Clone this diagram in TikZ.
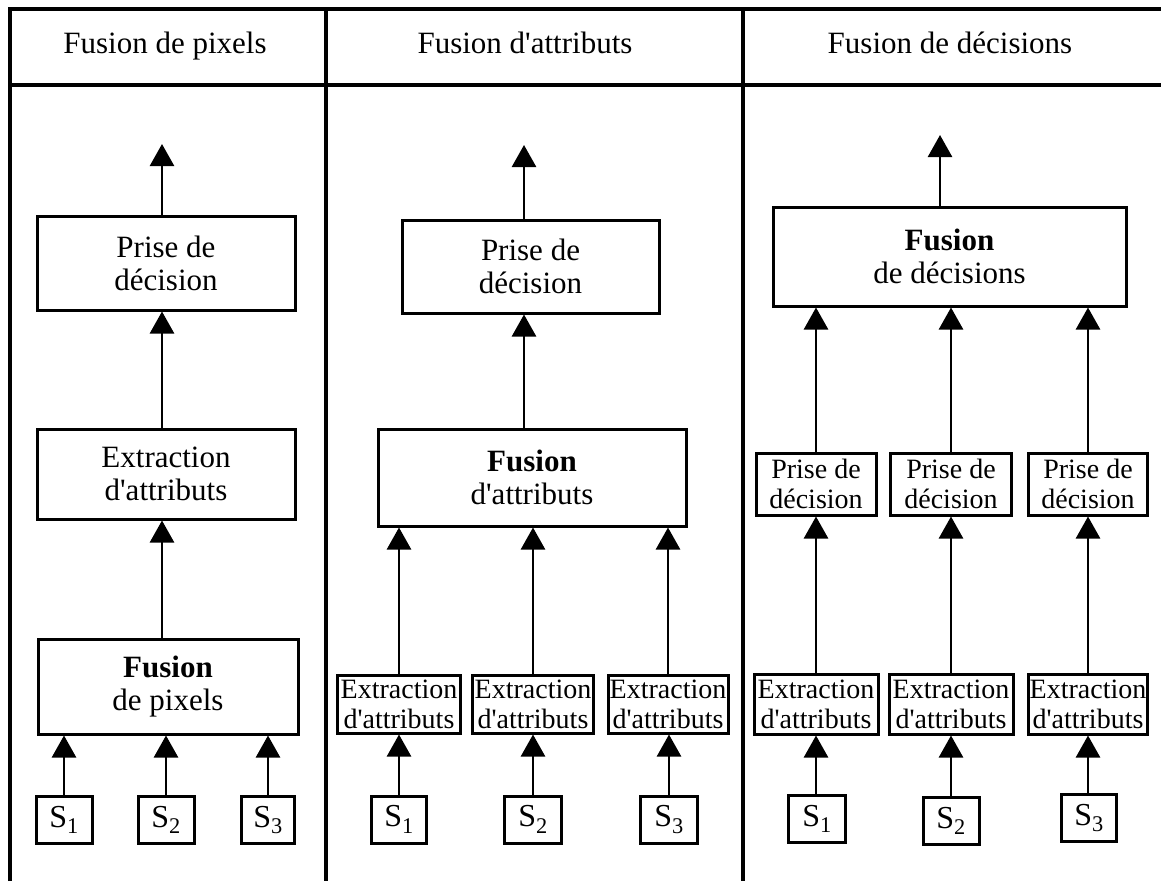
\documentclass[tikz,border=0pt]{standalone}
\usepackage{fontspec}
\setmainfont{Liberation Serif}[Ligatures=TeXOff]
\usetikzlibrary{arrows.meta}
\begin{document}
\begin{tikzpicture}[x=1pt,y=-1pt,
  box/.style={draw, line width=3pt, inner sep=0pt, align=center, font=\fontsize{31}{33}\selectfont},
  sbox/.style={draw, line width=3pt, inner sep=0pt, align=center, font=\fontsize{28}{30}\selectfont},
  srcbox/.style={draw, line width=3pt, inner sep=0pt, minimum height=47pt, font=\fontsize{32}{34}\selectfont},
  arr/.style={line width=2.6pt, -{Triangle[width=24pt,length=22pt]}},
  frameline/.style={line width=4pt},
  head/.style={font=\fontsize{31}{33}\selectfont, anchor=base, inner sep=0pt}
]
\useasboundingbox (0,0) rectangle (1161,881);
\fill[white] (0,0) rectangle (1161,881);

% frame
\draw[frameline] (10,881) -- (10,9) -- (1161,9);
\draw[frameline] (10,85) -- (1161,85);
\draw[frameline] (326,9) -- (326,881);
\draw[frameline] (743,9) -- (743,881);

% headers
\node[head] (H1) at (165,53) {Fusion de pixels};
\node[head] (H2) at (525,53) {Fusion d'attributs};
\node[head] (H3) at (950,53) {Fusion de décisions};

% ---------- left column ----------
\node[box, minimum width=258pt, minimum height=94pt] (Lpd) at (166,263) {Prise de\\décision};
\node[box, minimum width=258pt, minimum height=90pt] (Lex) at (166,474) {Extraction\\d'attributs};
\node[box, minimum width=260pt, minimum height=95pt] (Lfu) at (168,686.5) {\textbf{Fusion}\\de pixels};
\node[srcbox, minimum width=56pt] (Ls1) at (64,820) {S\textsubscript{1}};
\node[srcbox, minimum width=56pt] (Ls2) at (166,820) {S\textsubscript{2}};
\node[srcbox, minimum width=53pt] (Ls3) at (268,820) {S\textsubscript{3}};
\coordinate (Ltop) at (162,144);
\draw[arr] (Ltop |- Lpd.north) -- (Ltop);
\draw[arr] (Lex.north -| Ltop) -- (Lpd.south -| Ltop);
\draw[arr] (Lfu.north -| Ltop) -- (Lex.south -| Ltop);
\draw[arr] (Ls1.north) -- (Ls1 |- Lfu.south);
\draw[arr] (Ls2.north) -- (Ls2 |- Lfu.south);
\draw[arr] (Ls3.north) -- (Ls3 |- Lfu.south);

% ---------- middle column ----------
\node[box, minimum width=257pt, minimum height=93pt] (Mpd) at (530.5,266.5) {Prise de\\décision};
\node[box, minimum width=308pt, minimum height=97pt] (Mfu) at (532,477.5) {\textbf{Fusion}\\d'attributs};
\node[sbox, minimum width=123pt, minimum height=58pt] (Me1) at (399,704) {Extraction\\d'attributs};
\node[sbox, minimum width=121pt, minimum height=58pt] (Me2) at (533,704) {Extraction\\d'attributs};
\node[sbox, minimum width=120pt, minimum height=58pt] (Me3) at (668,704) {Extraction\\d'attributs};
\node[srcbox, minimum width=55pt] (Ms1) at (399,819.5) {S\textsubscript{1}};
\node[srcbox, minimum width=57pt] (Ms2) at (533,819.5) {S\textsubscript{2}};
\node[srcbox, minimum width=57pt] (Ms3) at (669,819.5) {S\textsubscript{3}};
\coordinate (Mtop) at (524,145);
\draw[arr] (Mtop |- Mpd.north) -- (Mtop);
\draw[arr] (Mfu.north -| Mtop) -- (Mpd.south -| Mtop);
\draw[arr] (Me1.north) -- (Me1 |- Mfu.south);
\draw[arr] (Me2.north) -- (Me2 |- Mfu.south);
\draw[arr] (Me3.north) -- (Me3 |- Mfu.south);
\draw[arr] (Ms1.north) -- (Ms1 |- Me1.south);
\draw[arr] (Ms2.north) -- (Ms2 |- Me2.south);
\draw[arr] (Ms3.north) -- (Ms3 |- Me3.south);

% ---------- right column ----------
\node[box, minimum width=353pt, minimum height=99pt] (Rfu) at (949.5,256.5) {\textbf{Fusion}\\de décisions};
\node[sbox, minimum width=120pt, minimum height=62pt] (Rp1) at (816,484) {Prise de\\décision};
\node[sbox, minimum width=121pt, minimum height=62pt] (Rp2) at (951,484) {Prise de\\décision};
\node[sbox, minimum width=119pt, minimum height=62pt] (Rp3) at (1088,484) {Prise de\\décision};
\node[sbox, minimum width=124pt, minimum height=60pt] (Re1) at (816,704) {Extraction\\d'attributs};
\node[sbox, minimum width=124pt, minimum height=60pt] (Re2) at (951,704) {Extraction\\d'attributs};
\node[sbox, minimum width=119pt, minimum height=60pt] (Re3) at (1088,704) {Extraction\\d'attributs};
\node[srcbox, minimum width=57pt] (Rs1) at (817,819) {S\textsubscript{1}};
\node[srcbox, minimum width=56pt] (Rs2) at (951,821) {S\textsubscript{2}};
\node[srcbox, minimum width=55pt] (Rs3) at (1089,818) {S\textsubscript{3}};
\coordinate (Rtop) at (940,135);
\draw[arr] (Rtop |- Rfu.north) -- (Rtop);
\draw[arr] (Rp1.north) -- (Rp1 |- Rfu.south);
\draw[arr] (Rp2.north) -- (Rp2 |- Rfu.south);
\draw[arr] (Rp3.north) -- (Rp3 |- Rfu.south);
\draw[arr] (Re1.north) -- (Re1 |- Rp1.south);
\draw[arr] (Re2.north) -- (Re2 |- Rp2.south);
\draw[arr] (Re3.north) -- (Re3 |- Rp3.south);
\draw[arr] (Rs1.north -| Re1) -- (Re1.south);
\draw[arr] (Rs2.north -| Re2) -- (Re2.south);
\draw[arr] (Rs3.north -| Re3) -- (Re3.south);
\end{tikzpicture}
\end{document}
